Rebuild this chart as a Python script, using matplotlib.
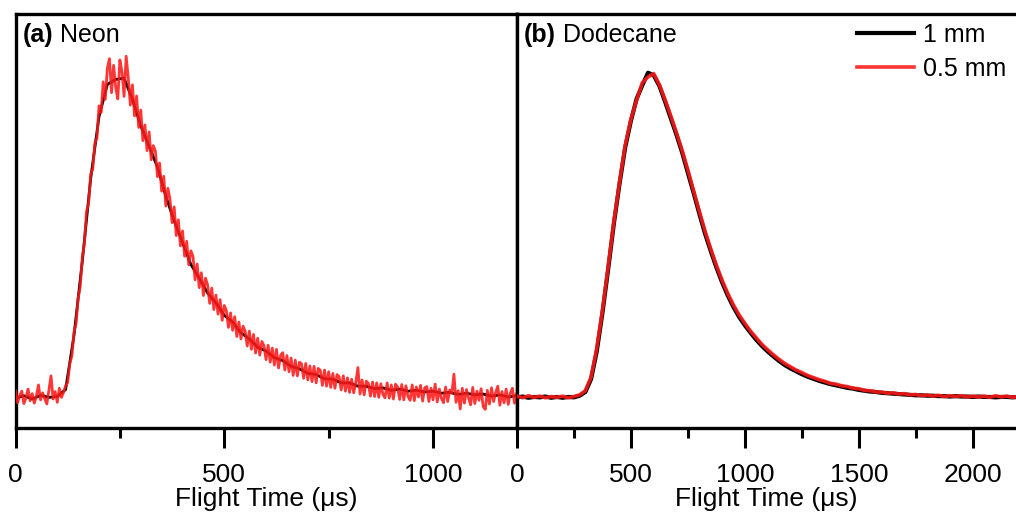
import numpy as np
import matplotlib
matplotlib.use("Agg")
import matplotlib.pyplot as plt

plt.rcParams['font.family'] = ['Liberation Sans', 'DejaVu Sans']

# ---------------- data ----------------
# (a) Neon, 0.5 mm (noisy), one value every 5 us from t = 0 to 1200 us
neon_red_step = 5
neon_red = [
    9.0, 6.1, 7.8, 8.9, 5.9, 7.2, 9.4, 6.6, 8.3, 6.0, 7.7, 10.4, 6.8, 8.5, 7.1, 5.8, 9.1, 12.6, 7.0, 8.8,
    6.2, 9.6, 7.4, 8.6, 10.2, 11.0, 15.6, 17.4, 23.1, 25.2, 31.3, 34.2, 41.2, 44.6, 52.3, 54.2, 61.3, 62.5, 68.8, 70.0,
    77.8, 76.2, 83.6, 79.4, 86.9, 89.2, 81.0, 87.6, 82.2, 79.5, 88.9, 86.0, 80.1, 89.8, 84.6, 78.0, 82.9, 75.4, 80.2, 72.6,
    76.8, 69.4, 73.2, 67.0, 71.5, 64.8, 68.2, 66.9, 60.7, 64.0, 57.2, 60.8, 53.6, 57.9, 55.2, 49.6, 53.4, 46.5, 50.3, 44.0,
    47.6, 41.5, 45.1, 39.4, 42.8, 41.5, 35.8, 39.6, 33.9, 37.5, 32.0, 36.2, 34.6, 30.1, 33.8, 28.6, 32.1, 27.5, 31.0, 26.0,
    29.6, 28.3, 24.3, 27.8, 23.6, 26.9, 22.1, 25.6, 21.5, 24.6, 23.4, 19.8, 23.4, 19.0, 22.6, 18.1, 21.7, 17.6, 20.9, 19.9,
    16.5, 20.0, 15.9, 19.3, 15.2, 19.0, 14.5, 17.6, 18.2, 14.0, 17.5, 13.6, 16.9, 12.7, 16.4, 12.6, 15.9, 15.5, 12.0, 15.6,
    11.6, 15.0, 11.2, 14.9, 10.9, 14.4, 13.9, 10.3, 14.0, 10.1, 13.6, 9.8, 13.2, 9.6, 12.9, 12.4, 9.2, 12.6, 8.9, 12.1,
    8.6, 11.8, 8.5, 11.0, 14.6, 8.2, 11.6, 8.0, 11.3, 10.8, 7.7, 11.1, 7.6, 10.9, 7.4, 10.7, 8.1, 7.3, 10.9, 7.2,
    10.4, 7.0, 10.6, 9.9, 6.9, 10.5, 6.8, 10.2, 7.6, 6.7, 10.4, 6.6, 9.9, 7.5, 10.3, 6.5, 9.7, 10.0, 6.4, 9.6,
    6.8, 10.6, 6.3, 9.4, 7.2, 6.1, 9.9, 6.4, 9.2, 8.4, 13.0, 6.2, 9.0, 4.6, 9.6, 6.0, 9.3, 7.3, 5.6, 9.8,
    5.9, 8.9, 6.7, 9.5, 5.2, 4.5, 9.1, 5.8, 9.7, 6.4, 8.6, 10.1, 5.5, 8.8, 6.1, 9.4, 5.7, 8.4, 9.6, 6.0,
    8.3]
# (a) Neon, 1 mm, one value every 20 us
neon_t_black = np.arange(0, 1201, 20)
neon_black = [7.2, 7.8, 7.0, 7.9, 7.4, 7.6, 9.3, 22.3, 40.3, 60.2, 75.2, 83.0,
              84.2, 84.5, 79.4, 73.0, 68.0, 63.0, 56.0, 50.0, 44.8, 39.5, 36.2, 32.6,
              30.2, 27.2, 25.6, 23.0, 21.5, 19.5, 18.6, 17.0, 16.3, 14.9, 14.3, 13.2,
              12.9, 11.9, 11.8, 10.9, 10.9, 10.1, 10.1, 9.5, 9.7, 9.1, 9.4, 8.9,
              9.1, 8.7, 8.9, 8.4, 8.6, 8.1, 8.4, 8.0, 8.2, 7.7, 8.0, 7.5, 7.8]

# (b) Dodecane, one value every 25 us
dod_t = np.arange(0, 2201, 25)
dod_black = [7.4, 7.6, 7.3, 7.5, 7.4, 7.6, 7.3, 7.5, 7.3, 7.5, 7.4, 7.8, 8.7, 11.8,
             18.5, 27.8, 38.3, 49.3, 59.0, 67.8, 74.2, 79.5, 82.8, 85.8, 85.2, 82.6,
             78.8, 74.8, 70.8, 66.5, 61.6, 56.8, 51.8, 47.0, 42.8, 38.8, 35.2, 32.0,
             29.2, 26.8, 24.8, 23.0, 21.3, 19.8, 18.5, 17.3, 16.2, 15.2, 14.4, 13.7,
             13.0, 12.4, 11.9, 11.4, 11.0, 10.6, 10.3, 10.0, 9.7, 9.5, 9.2, 9.0,
             8.8, 8.7, 8.5, 8.4, 8.3, 8.2, 8.1, 8.0, 7.9, 7.9, 7.8, 7.8, 7.7, 7.7,
             7.6, 7.7, 7.6, 7.6, 7.5, 7.6, 7.5, 7.5, 7.4, 7.5, 7.5, 7.4, 7.5]
dod_red = [7.7, 7.3, 7.8, 7.4, 7.7, 7.3, 7.6, 7.4, 7.7, 7.3, 7.6, 8.0, 9.0, 12.3,
           19.2, 28.4, 38.9, 49.8, 59.4, 68.3, 74.6, 79.2, 83.4, 84.8, 85.6, 82.9,
           79.3, 75.4, 71.3, 67.0, 62.3, 57.3, 52.4, 47.6, 43.3, 39.3, 35.7, 32.5,
           29.7, 27.3, 25.3, 23.4, 21.8, 20.2, 18.9, 17.7, 16.6, 15.6, 14.8, 14.0,
           13.4, 12.7, 12.2, 11.7, 11.3, 10.8, 10.6, 10.2, 10.0, 9.6, 9.5, 9.1,
           9.0, 8.7, 8.7, 8.4, 8.5, 8.2, 8.3, 8.0, 8.1, 7.8, 8.0, 7.7, 7.9, 7.6,
           7.8, 7.6, 7.8, 7.5, 7.7, 7.5, 7.7, 7.4, 7.8, 7.5, 7.7, 7.4, 7.6]

legend_labels = ["1 mm", "0.5 mm"]
panel_tags = ["(a)", "(b)"]
panel_names = ["Neon", "Dodecane"]
xlabel = "Flight Time (\u03bcs)"

neon_t_red = np.arange(len(neon_red)) * neon_red_step

# ---------------- figure ----------------
W, H = 1016, 515
fig = plt.figure(figsize=(W / 100, H / 100), dpi=100)
top_px, bot_px = 14, 428
yb = 1 - bot_px / H
hgt = (bot_px - top_px) / H
ax1 = fig.add_axes([15.5 / W, yb, (517 - 15.5) / W, hgt])
ax2 = fig.add_axes([517 / W, yb, (W - 517) / W, hgt])

RED = '#ff1a1a'
ax1.plot(neon_t_black, neon_black, color='black', lw=2.0, zorder=2)
ax1.plot(neon_t_red, neon_red, color=RED, lw=2.0, alpha=0.88, zorder=3)
l1, = ax2.plot(dod_t, dod_black, color='black', lw=3.0, zorder=2)
l2, = ax2.plot(dod_t, dod_red, color=RED, lw=2.6, alpha=0.88, zorder=3)

ax1.set_xlim(0, 1201)
ax2.set_xlim(0, 2190)
for ax in (ax1, ax2):
    ax.set_ylim(0, 100)
    ax.set_yticks([])
    for s in ax.spines.values():
        s.set_linewidth(2.4)
    ax.tick_params(axis='x', which='major', direction='out', length=14.5, width=2.2,
                   labelsize=19, pad=10.5)
    ax.tick_params(axis='x', which='minor', direction='out', length=7.5, width=2.2)
    ax.set_xlabel(xlabel, fontsize=19, labelpad=0)
ax2.spines['right'].set_visible(False)

ax1.set_xticks([0, 500, 1000])
ax1.set_xticks([250, 750], minor=True)
ax2.set_xticks([0, 500, 1000, 1500, 2000])
ax2.set_xticks([250, 750, 1250, 1750], minor=True)

for ax, tag, name in zip((ax1, ax2), panel_tags, panel_names):
    t = ax.text(7 / 500, 0.95, tag, transform=ax.transAxes, fontsize=18,
                fontweight='bold', va='center', ha='left')
    ax.annotate(" " + name, xy=(1, 0.5), xycoords=t, va='center', ha='left',
                fontsize=18)

ax2.legend([l1, l2], legend_labels, loc='upper right', bbox_to_anchor=(0.998, 1.0),
           frameon=False, fontsize=18, handlelength=2.3, handletextpad=0.35,
           labelspacing=0.4, borderpad=0.15, borderaxespad=0.2)

fig.savefig("out.png", dpi=100)
